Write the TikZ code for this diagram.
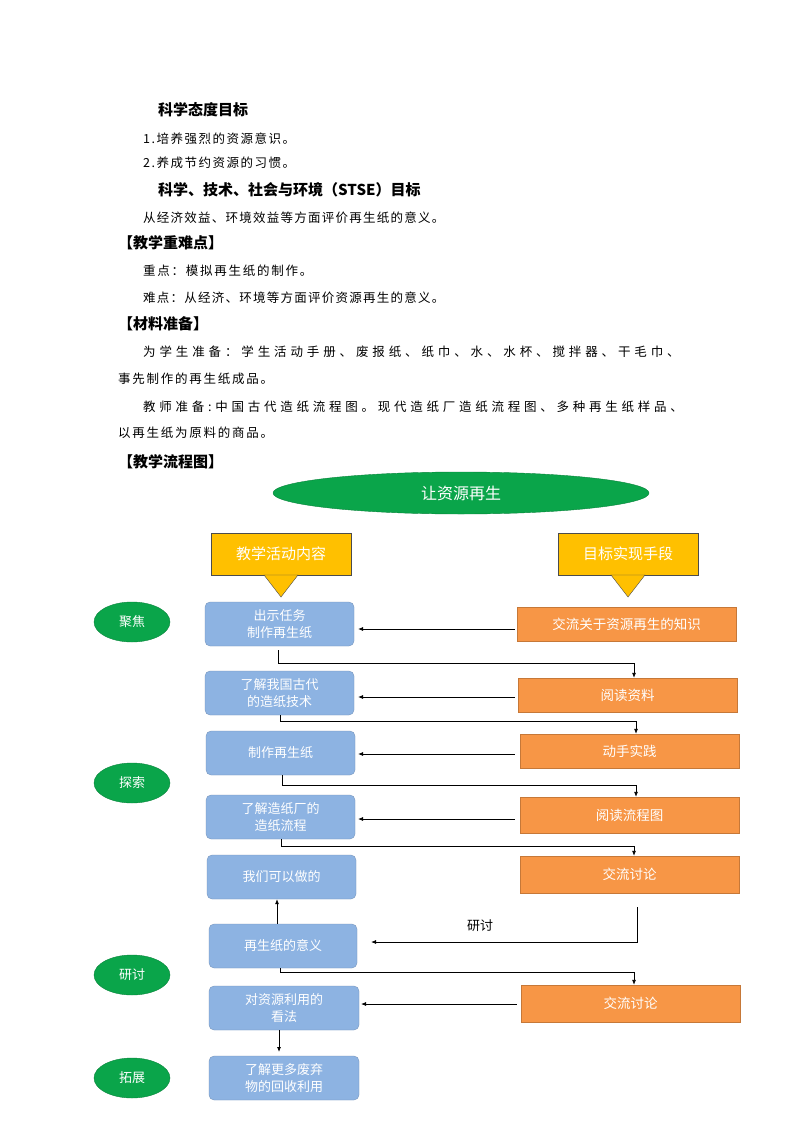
\documentclass[tikz,border=0pt]{standalone}
\usepackage{fontspec}
\setmainfont{Noto Sans CJK SC}
\usetikzlibrary{shapes.geometric,arrows.meta}
\definecolor{bl}{HTML}{8DB3E2}
\definecolor{orng}{HTML}{F79646}
\definecolor{grn}{HTML}{0AA54A}
\definecolor{yel}{HTML}{FFC000}
\newcommand{\lsp}[2]{{\addfontfeatures{LetterSpace=#1}#2}}
\begin{document}
\begin{tikzpicture}[x=1pt,y=-1pt,
 hd/.style={anchor=west,font=\fontsize{15}{15}\selectfont\bfseries,inner sep=0},
 bd/.style={anchor=west,font=\fontsize{12.5}{12.5}\selectfont,inner sep=0},
 bbox/.style={draw=bl!80!black,line width=0.3pt,fill=bl,rounded corners=5pt,text=white,align=center,font=\fontsize{13}{17}\selectfont,inner sep=0},
 obox/.style={draw=orng!80!black,line width=0.3pt,fill=orng,text=white,align=center,font=\fontsize{13.5}{16}\selectfont,inner sep=0},
 gel/.style={ellipse,draw=grn!80!black,fill=grn,text=white,font=\fontsize{13}{13}\selectfont,inner sep=0},
 arr/.style={-{Latex[length=5pt,width=4pt]},line width=0.8pt}]
\useasboundingbox (0,0) rectangle (794,1123);
\fill[white] (0,0) rectangle (794,1123);
\node[hd] (h1) at (158,110) {科学态度目标};
\node[bd] (t1) at (143,139) {\lsp{12}{1.培养强烈的资源意识。}};
\node[bd] (t2) at (143,163) {\lsp{12}{2.养成节约资源的习惯。}};
\node[hd] (h2) at (158,190) {科学、技术、社会与环境（STSE）目标};
\node[bd] (t3) at (143,218) {\lsp{10}{从经济效益、环境效益等方面评价再生纸的意义。}};
\node[hd] (h3) at (118,243) {【教学重难点】};
\node[bd] (t4) at (143,271) {\lsp{14}{重点：模拟再生纸的制作。}};
\node[bd] (t5) at (143,298) {\lsp{10}{难点：从经济、环境等方面评价资源再生的意义。}};
\node[hd] (h4) at (118,324) {【材料准备】};
\node[bd] (t6) at (143,352) {\lsp{31}{为学生准备：学生活动手册、废报纸、纸巾、水、水杯、搅拌器、干毛巾、}};
\node[bd] (t7) at (118,379) {\lsp{14}{事先制作的再生纸成品。}};
\node[bd] (t8) at (143,407) {\lsp{30}{教师准备:中国古代造纸流程图。现代造纸厂造纸流程图、多种再生纸样品、}};
\node[bd] (t9) at (118,433) {\lsp{14}{以再生纸为原料的商品。}};
\node[hd] (h5) at (118,462) {【教学流程图】};

\node[ellipse,draw=grn!80!black,fill=grn,text=white,minimum width=376,minimum height=42,font=\fontsize{16}{16}\selectfont] (top) at (461,493) {让资源再生};

\node[draw=black!70,line width=0.4pt,fill=yel,text=white,minimum width=140,minimum height=42,font=\fontsize{15}{15}\selectfont,inner sep=0] (y1) at (281,554) {教学活动内容};
\node[draw=black!70,line width=0.4pt,fill=yel,text=white,minimum width=140,minimum height=42,font=\fontsize{15}{15}\selectfont,inner sep=0] (y2) at (628,554) {目标实现手段};
\fill[yel,draw=black!70,line width=0.4pt] (264,575) -- (298,575) -- (281,597) -- cycle;
\fill[yel,draw=black!70,line width=0.4pt] (611,575) -- (645,575) -- (628,597) -- cycle;

\node[gel,minimum width=76,minimum height=40] (g1) at (132,622) {聚焦};
\node[gel,minimum width=76,minimum height=40] (g2) at (132,783) {探索};
\node[gel,minimum width=76,minimum height=40] (g3) at (132,975) {研讨};
\node[gel,minimum width=76,minimum height=40] (g4) at (132,1078) {拓展};

\node[bbox,minimum width=149,minimum height=44] (b1) at (279.5,624) {出示任务\\制作再生纸};
\node[bbox,minimum width=149,minimum height=44] (b2) at (279.5,693) {了解我国古代\\的造纸技术};
\node[bbox,minimum width=149,minimum height=44] (b3) at (280.5,753) {制作再生纸};
\node[bbox,minimum width=149,minimum height=44] (b4) at (280.5,817) {了解造纸厂的\\造纸流程};
\node[bbox,minimum width=149,minimum height=44] (b5) at (281.5,877) {我们可以做的};
\node[bbox,minimum width=148,minimum height=44] (b6) at (283,946) {再生纸的意义};
\node[bbox,minimum width=150,minimum height=44] (b7) at (284,1008) {对资源利用的\\看法};
\node[bbox,minimum width=150,minimum height=44] (b8) at (284,1078) {了解更多废弃\\物的回收利用};

\node[obox,minimum width=219,minimum height=34] (o1) at (626.5,624) {交流关于资源再生的知识};
\node[obox,minimum width=219,minimum height=34] (o2) at (627.5,695) {阅读资料};
\node[obox,minimum width=219,minimum height=34] (o3) at (629.5,751) {动手实践};
\node[obox,minimum width=219,minimum height=36] (o4) at (629.5,815) {阅读流程图};
\node[obox,minimum width=219,minimum height=37] (o5) at (629.5,874.5) {交流讨论};
\node[obox,minimum width=219,minimum height=37] (o6) at (630.5,1003.5) {交流讨论};

\draw[arr] (o1.west |- 0,629) ++(-2,0) -- (358,629);
\draw[arr] (o2.west |- 0,697) ++(-3,0) -- (358,697);
\draw[arr] (o3.west |- 0,754) ++(-5,0) -- (358,754);
\draw[arr] (o4.west |- 0,819) ++(-5,0) -- (358,819);
\draw[arr] (o6.west |- 0,1004) ++(-4,0) -- (361,1004);

\draw[arr] (278,650) -- (278,663) -- (634,663) -- (o2.north -| 634,0);
\draw[arr] (280,715) -- (280,721) -- (636,721) -- (o3.north -| 636,0);
\draw[arr] (282,775) -- (282,785) -- (636,785) -- (o4.north -| 636,0);
\draw[arr] (281,839) -- (281,846) -- (634,846) -- (o5.north -| 634,0);
\draw[arr] (637,907) -- (637,942) -- (371,942);
\node[font=\fontsize{13}{13}\selectfont] (lab) at (480,926) {研讨};
\draw[arr] (b6.north -| 277,0) -- (b5.south -| 277,0);
\draw[arr] (280,968) -- (280,972) -- (634,972) -- (o6.north -| 634,0);
\draw[arr] (279,1030) -- (279,1052);
\end{tikzpicture}
\end{document}
